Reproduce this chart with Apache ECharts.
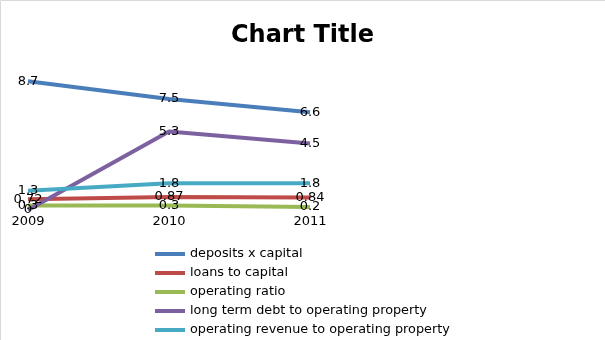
<!DOCTYPE html>
<html>
<head>
<meta charset="utf-8">
<script src="https://cdn.jsdelivr.net/npm/echarts@6/dist/echarts.min.js"></script>
<style>html,body{margin:0;padding:0;background:#fff;}#c{width:605px;height:340px;}</style>
</head>
<body>
<div id="c"></div>
<script>
const categories = ['2009', '2010', '2011'];
const seriesNames = ['deposits x capital', 'loans to capital', 'operating ratio', 'long term debt to operating property', 'operating revenue to operating property'];
const depositsCapital = [8.7, 7.5, 6.6];
const loansCapital = [0.72, 0.87, 0.84];
const operatingRatio = [0.3, 0.3, 0.2];
const longTermDebt = [0, 5.3, 4.5];
const operatingRevenue = [1.3, 1.8, 1.8];
const colors = ['#4A7EBB', '#BE4B48', '#98B954', '#7D60A0', '#46AAC5'];

const values = [depositsCapital, loansCapital, operatingRatio, longTermDebt, operatingRevenue];
const chart = echarts.init(document.getElementById('c'), null, {renderer: 'canvas'});
chart.setOption({
  animation: false,
  color: colors,
  title: {
    text: 'Chart Title', left: 'center', top: 19,
    textStyle: {fontFamily: 'DejaVu Sans', fontSize: 24, fontWeight: 'bold', color: '#000'}
  },
  graphic: [{
    type: 'rect', shape: {x: 0.5, y: 0.5, width: 620, height: 360},
    style: {fill: 'none', stroke: '#D9D9D9', lineWidth: 1}, silent: true
  }],
  grid: {left: 28, right: 295, top: 62, bottom: 130, containLabel: false},
  xAxis: {
    type: 'category', data: categories, boundaryGap: false,
    axisLine: {show: false}, axisTick: {show: false}, splitLine: {show: false},
    axisLabel: {fontFamily: 'DejaVu Sans', fontSize: 13, color: '#000', margin: 5}
  },
  yAxis: {
    type: 'value', min: 0, max: 10, interval: 2,
    axisLine: {show: false}, axisTick: {show: false}, splitLine: {show: false},
    axisLabel: {show: false}
  },
  legend: {
    orient: 'vertical', left: 155, top: 247, padding: 0, height: 93,
    icon: 'rect', itemWidth: 30, itemHeight: 4, itemGap: 5,
    itemStyle: {opacity: 1},
    textStyle: {fontFamily: 'DejaVu Sans', fontSize: 12.8, lineHeight: 14, color: '#000'},
    data: seriesNames
  },
  series: seriesNames.map((n, i) => ({
    name: n, type: 'line', data: values[i],
    symbol: 'circle', symbolSize: 1, itemStyle: {opacity: 0, color: colors[i]},
    lineStyle: {width: 4, color: colors[i]},
    label: {show: true, position: 'inside', fontFamily: 'DejaVu Sans', fontSize: 13, color: '#000', opacity: 1},
    emphasis: {disabled: true}
  }))
});
</script>
</body>
</html>
